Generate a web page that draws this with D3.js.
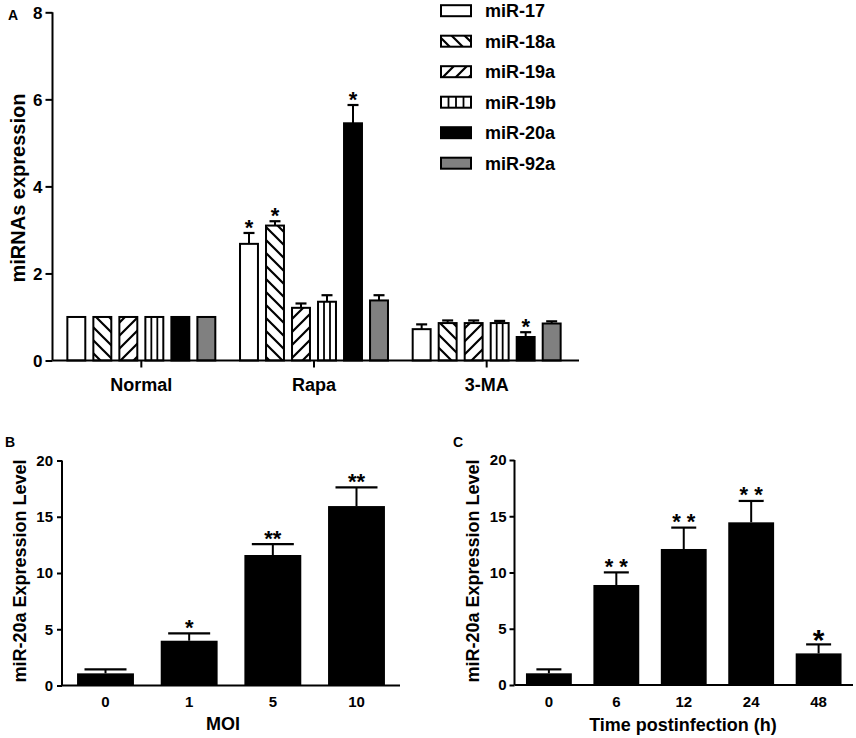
<!DOCTYPE html>
<html>
<head>
<meta charset="utf-8">
<script src="https://cdn.jsdelivr.net/npm/d3@7"></script>
<style>
  html, body { margin: 0; padding: 0; background: #fff; }
  svg { display: block; font-family: "Liberation Sans", Arial, sans-serif; font-weight: bold; }
</style>
</head>
<body>
<svg id="chart" width="856" height="738"></svg>
<script>
// ---------- DATA ----------
// Panel A
const groupsA = ["Normal", "Rapa", "3-MA"];
const seriesA = ["miR-17", "miR-18a", "miR-19a", "miR-19b", "miR-20a", "miR-92a"];
const valuesA = {
  "Normal": [1.0, 1.0, 1.0, 1.0, 1.0, 1.0],
  "Rapa":   [2.68, 3.10, 1.21, 1.35, 5.45, 1.38],
  "3-MA":   [0.72, 0.86, 0.86, 0.86, 0.54, 0.85]
};
const errorsA = {
  "Normal": [0, 0, 0, 0, 0, 0],
  "Rapa":   [0.25, 0.10, 0.10, 0.15, 0.42, 0.12],
  "3-MA":   [0.11, 0.06, 0.06, 0.05, 0.11, 0.05]
};
const starsA = {
  "Normal": ["", "", "", "", "", ""],
  "Rapa":   ["*", "*", "", "", "*", ""],
  "3-MA":   ["", "", "", "", "*", ""]
};
const ticksA = [0, 2, 4, 6, 8];

// Panel B
const categoriesB = ["0", "1", "5", "10"];
const valuesB = [1.08, 3.98, 11.6, 15.95];
const errorsB = [0.36, 0.66, 0.97, 1.66];
const starsB = ["", "*", "**", "**"];
const ticksB = [0, 5, 10, 15, 20];

// Panel C
const categoriesC = ["0", "6", "12", "24", "48"];
const valuesC = [1.04, 8.89, 12.09, 14.46, 2.81];
const errorsC = [0.35, 1.12, 1.90, 1.90, 0.80];
const starsC = ["", "* *", "* *", "* *", "*"];
const ticksC = [0, 5, 10, 15, 20];

// ---------- SETUP ----------
const svg = d3.select("#chart");
const defs = svg.append("defs");

function hatch(id, d) {
  const p = defs.append("pattern")
    .attr("id", id).attr("patternUnits", "userSpaceOnUse")
    .attr("width", 13).attr("height", 13);
  p.append("rect").attr("width", 13).attr("height", 13).attr("fill", "#fff");
  p.append("path").attr("d", d).attr("stroke", "#000").attr("stroke-width", 2.2).attr("fill", "none");
}
hatch("back", "M-1,-1 L14,14 M-4,9 L4,17 M9,-4 L17,4");
hatch("fwd", "M-1,14 L14,-1 M-4,4 L4,-4 M9,17 L17,9");

const fills = {
  "miR-17": "#fff",
  "miR-18a": "url(#back)",
  "miR-19a": "url(#fwd)",
  "miR-19b": "#fff",
  "miR-20a": "#000",
  "miR-92a": "#808080"
};

function star(g, cx, yTop, txt, size) {
  g.append("text")
    .attr("x", cx).attr("y", yTop - 11 + size * 0.57)
    .attr("text-anchor", "middle")
    .attr("font-size", size)
    .text(txt);
}

// ---------- PANEL A ----------
const yA = d3.scaleLinear().domain([0, 8]).range([360.5, 12.3]);
const x0A = d3.scaleBand().domain(groupsA).range([55, 573]);
const x1A = d3.scaleBand().domain(seriesA).range([0, x0A.bandwidth()])
  .paddingInner(0.31).paddingOuter(0.475);
const axA = 52.5;

const gA = svg.append("g");

groupsA.forEach(grp => {
  seriesA.forEach((s, i) => {
    const x = x0A(grp) + x1A(s);
    const w = x1A.bandwidth();
    const v = valuesA[grp][i];
    const e = errorsA[grp][i];
    if (e > 0) {
      gA.append("line").attr("x1", x + w / 2).attr("x2", x + w / 2)
        .attr("y1", yA(v)).attr("y2", yA(v + e))
        .attr("stroke", "#000").attr("stroke-width", 2);
      gA.append("line").attr("x1", x + w / 2 - 5.5).attr("x2", x + w / 2 + 5.5)
        .attr("y1", yA(v + e)).attr("y2", yA(v + e))
        .attr("stroke", "#000").attr("stroke-width", 2.2);
    }
    gA.append("rect")
      .attr("x", x).attr("y", yA(v))
      .attr("width", w).attr("height", yA(0) - yA(v))
      .attr("fill", fills[s]).attr("stroke", "#000").attr("stroke-width", 2);
    if (s === "miR-19b") {
      [1 / 3, 2 / 3].forEach(f => {
        gA.append("line").attr("x1", x + w * f).attr("x2", x + w * f)
          .attr("y1", yA(v)).attr("y2", yA(0))
          .attr("stroke", "#000").attr("stroke-width", 1.8);
      });
    }
    if (starsA[grp][i]) star(gA, x + w / 2, yA(v + e), starsA[grp][i], 22);
  });
});

// y axis A
const yAxisA = gA.append("g").attr("transform", `translate(${axA},0)`)
  .call(d3.axisLeft(yA).tickValues(ticksA).tickSize(7).tickPadding(3).tickFormat(d3.format("d")));
yAxisA.select(".domain").attr("stroke-width", 2).attr("d", `M-0,${yA(8)}V${yA(0)}`);
yAxisA.selectAll(".tick line").attr("stroke-width", 2);
yAxisA.selectAll(".tick text").attr("font-size", 17).attr("dy", "0.36em").attr("fill", "#000");
yAxisA.attr("font-family", null);

// x axis A
const xAxisA = gA.append("g").attr("transform", `translate(0,${yA(0)})`)
  .call(d3.axisBottom(x0A).tickSize(7).tickPadding(11));
xAxisA.select(".domain").attr("d", `M${axA},0H579`).attr("stroke-width", 2);
xAxisA.selectAll(".tick line").attr("stroke-width", 2);
xAxisA.selectAll(".tick text").attr("font-size", 18).attr("fill", "#000");
xAxisA.attr("font-family", null);

gA.append("text").attr("transform", "translate(25,188) rotate(-90)")
  .attr("text-anchor", "middle").attr("font-size", 20).text("miRNAs expression");
gA.append("text").attr("x", 13).attr("y", 20).attr("text-anchor", "middle")
  .attr("font-size", 14).text("A");

// Legend
const leg = svg.append("g");
seriesA.forEach((s, i) => {
  const cy = 10.7 + i * 30.5;
  leg.append("rect").attr("x", 441).attr("y", cy - 5.5).attr("width", 30).attr("height", 11)
    .attr("fill", fills[s]).attr("stroke", "#000").attr("stroke-width", 2);
  if (s === "miR-19b") {
    [1, 2, 3].forEach(k => {
      leg.append("line").attr("x1", 441 + 7.5 * k).attr("x2", 441 + 7.5 * k)
        .attr("y1", cy - 5.5).attr("y2", cy + 5.5).attr("stroke", "#000").attr("stroke-width", 1.8);
    });
  }
  leg.append("text").attr("x", 485).attr("y", cy + 6.5).attr("font-size", 18).text(s);
});

// ---------- PANELS B & C ----------
function simplePanel(opts) {
  const g = svg.append("g");
  const y = d3.scaleLinear().domain([0, 20]).range([opts.y0, opts.y20]);
  const x = d3.scaleBand().domain(opts.cats).range([opts.axX, opts.xEnd])
    .paddingInner(0.32).paddingOuter(opts.po);
  const w = x.bandwidth();
  opts.cats.forEach((c, i) => {
    const v = opts.vals[i], e = opts.errs[i];
    const cx = x(c) + w / 2;
    g.append("line").attr("x1", cx).attr("x2", cx).attr("y1", y(v)).attr("y2", y(v + e))
      .attr("stroke", "#000").attr("stroke-width", 2);
    g.append("line").attr("x1", cx - opts.cap / 2).attr("x2", cx + opts.cap / 2)
      .attr("y1", y(v + e)).attr("y2", y(v + e)).attr("stroke", "#000").attr("stroke-width", 2.2);
    g.append("rect").attr("x", x(c)).attr("y", y(v)).attr("width", w).attr("height", y(0) - y(v))
      .attr("fill", "#000");
    if (opts.stars[i]) {
      const big = opts.stars[i] === "*" && opts.bigSingle;
      star(g, cx, y(v + e), opts.stars[i], big ? 30 : 22);
    }
  });
  const ya = g.append("g").attr("transform", `translate(${opts.axX},0)`)
    .call(d3.axisLeft(y).tickValues(opts.ticks).tickSize(5).tickPadding(opts.tp).tickFormat(d3.format("d")));
  ya.select(".domain").attr("stroke-width", 2).attr("d", `M0,${y(20)}V${y(0)}`);
  ya.selectAll(".tick line").attr("stroke-width", 2);
  ya.selectAll(".tick text").attr("font-size", 15).attr("fill", "#000");
  ya.attr("font-family", null);
  const xa = g.append("g").attr("transform", `translate(0,${y(0)})`)
    .call(d3.axisBottom(x).tickSize(0).tickPadding(11));
  xa.select(".domain").attr("d", `M${opts.axX},0H${opts.xEnd}`).attr("stroke-width", 2);
  xa.selectAll(".tick text").attr("font-size", 15).attr("fill", "#000");
  xa.attr("font-family", null);
  g.append("text").attr("transform", `translate(${opts.ytX},571) rotate(-90)`)
    .attr("text-anchor", "middle").attr("font-size", 18).text("miR-20a Expression Level");
  g.append("text").attr("x", opts.xtX).attr("y", opts.xtY).attr("text-anchor", "middle")
    .attr("font-size", 18).text(opts.xTitle);
  g.append("text").attr("x", opts.lblX).attr("y", 447).attr("text-anchor", "middle")
    .attr("font-size", 14).text(opts.lbl);
}

simplePanel({
  cats: categoriesB, vals: valuesB, errs: errorsB, stars: starsB, ticks: ticksB,
  y0: 685.5, y20: 460.5, axX: 62, xEnd: 400, po: 0.18, cap: 42, tp: 4,
  ytX: 26, xtX: 223, xtY: 729.5, xTitle: "MOI", lbl: "B", lblX: 10, bigSingle: false
});
simplePanel({
  cats: categoriesC, vals: valuesC, errs: errorsC, stars: starsC, ticks: ticksC,
  y0: 685, y20: 460, axX: 514.5, xEnd: 853, po: 0.17, cap: 25, tp: 3,
  ytX: 478.5, xtX: 683, xtY: 731, xTitle: "Time postinfection (h)", lbl: "C", lblX: 458, bigSingle: true
});
</script>
</body>
</html>
